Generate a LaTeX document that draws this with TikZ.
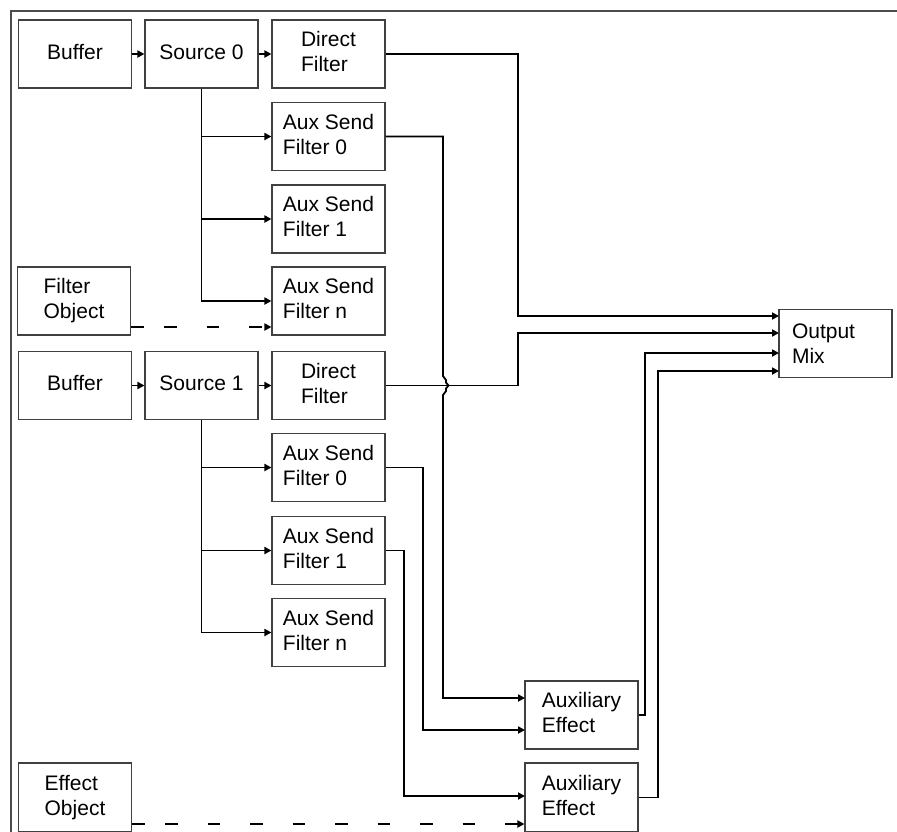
\documentclass[tikz,border=0pt]{standalone}
\usepackage{fontspec}
\setmainfont{Liberation Sans}
\usetikzlibrary{arrows.meta}
\newcommand{\mlt}[1]{\begin{tabular}{@{}l@{}}#1\end{tabular}}
\begin{document}
\begin{tikzpicture}[x=1pt,y=-1pt,
  box/.style={draw=black!75, line width=1.1pt, fill=white, minimum width=113pt, minimum height=68pt,
    inner sep=0pt, align=left, font=\fontsize{21}{25}\selectfont},
  conn/.style={draw=black, line width=1.8pt, line join=miter},
  arr/.style={conn, -{Triangle[length=7pt,width=7pt]}},
  dsh/.style={arr, dash pattern=on 13pt off 20pt on 12.5pt off 30pt on 12.5pt off 30pt on 12.5pt off 30pt on 12.5pt off 30pt on 12.5pt off 30pt on 12.5pt off 30pt on 12.5pt off 30pt on 12.5pt off 30pt on 12.5pt off 30pt},
  frame/.style={draw=black!70, line width=1.1pt}]
\clip (0,0) rectangle (897,831);
\fill[white] (0,0) rectangle (897,831);
\draw[frame] (11,840) -- (11,11) -- (900,11);

% group 0
\node[box] (buf0) at (75,54) {\mlt{Buffer}};
\node[box] (src0) at (201.5,54) {\mlt{Source 0}};
\node[box] (df0) at (328.5,54) {\mlt{Direct\\Filter}};
\node[box] (as00) at (328.5,136.5) {\mlt{Aux Send\\Filter 0}};
\node[box] (as01) at (328.5,219) {\mlt{Aux Send\\Filter 1}};
\node[box] (as0n) at (328.5,301) {\mlt{Aux Send\\Filter n}};
\node[box] (fo) at (74,301) {\mlt{Filter\\Object}};
% group 1
\node[box] (buf1) at (75,385.5) {\mlt{Buffer}};
\node[box] (src1) at (201.5,385.5) {\mlt{Source 1}};
\node[box] (df1) at (328.5,385.5) {\mlt{Direct\\Filter}};
\node[box] (as10) at (328.5,467.5) {\mlt{Aux Send\\Filter 0}};
\node[box] (as11) at (328.5,550.5) {\mlt{Aux Send\\Filter 1}};
\node[box] (as1n) at (328.5,632.5) {\mlt{Aux Send\\Filter n}};
\node[box, minimum height=69pt] (eo) at (75,797.5) {\mlt{Effect\\Object}};
% effects and mix
\node[box] (ae1) at (581.5,715) {\mlt{Auxiliary\\Effect}};
\node[box, minimum height=69pt] (ae2) at (581.5,797.5) {\mlt{Auxiliary\\Effect}};
\node[box, text width=87pt] (om) at (835.5,343.5) {Output\\Mix};

\coordinate (in1) at (779,316);
\coordinate (in2) at (779,333);
\coordinate (in3) at (779,353);
\coordinate (in4) at (779,371);
\coordinate (e1a) at (525,698);
\coordinate (e1b) at (525,730);
\coordinate (e2a) at (525,796);

% chains
\draw[arr] (buf0) -- (src0);
\draw[arr] (src0) -- (df0);
\draw[arr] (buf1) -- (src1);
\draw[arr] (src1) -- (df1);
\draw[arr] (src0.south) |- (as00.west);
\draw[arr] (src0.south) |- (as01.west);
\draw[arr] (src0.south) |- (as0n.west);
\draw[arr] (src1.south) |- (as10.west);
\draw[arr] (src1.south) |- (as11.west);
\draw[arr] (src1.south) |- (as1n.west);
\draw[dsh] ([yshift=-26pt]fo.east) -- ([yshift=-26pt]as0n.west);
\draw[dsh] ([yshift=-26.5pt]eo.east) -- ([yshift=-26.5pt]ae2.west);

% to output mix
\draw[arr] (df0.east) -| (518,316) -- (in1);
\draw[arr] (df1.east) -| (518,333) -- (in2);
\draw[arr] (ae1.east) -| (645,353) -- (in3);
\draw[arr] (ae2.east) -| (658,371) -- (in4);

% aux sends to effects
\draw[arr] (as00.east) -- (443,136.5) -- (443,376) -- (446,380) -- (446,382.5) -- (448.5,385.5) -- (446,388.5) -- (446,391) -- (443,395) -- (443,698) -- (e1a);
\draw[arr] (as10.east) -| (423,730) -- (e1b);
\draw[arr] (as11.east) -| (404,796) -- (e2a);
\end{tikzpicture}
\end{document}
